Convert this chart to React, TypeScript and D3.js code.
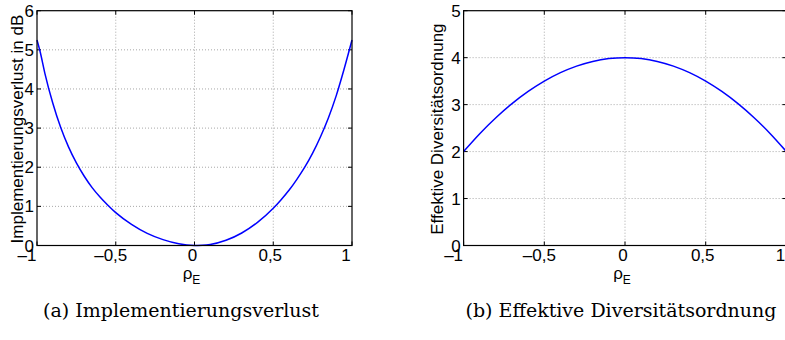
import * as d3 from "d3";

// rho_E sample positions and values
const rhoLoss = [-1, -0.98, -0.95, -0.9, -0.85, -0.8, -0.75, -0.7, -0.65, -0.6, -0.55, -0.5, -0.4, -0.3, -0.2, -0.1, 0, 0.02, 0.05, 0.1, 0.2, 0.3, 0.4, 0.5, 0.55, 0.6, 0.65, 0.7, 0.75, 0.8, 0.85, 0.9, 0.95, 1];
const implLoss = [5.25, 4.95, 4.4, 3.64, 3.02, 2.52, 2.11, 1.77, 1.48, 1.24, 1.03, 0.84, 0.54, 0.31, 0.15, 0.044, 0.001, 0.0, 0.004, 0.026, 0.133, 0.32, 0.59, 0.95, 1.17, 1.41, 1.69, 2.0, 2.36, 2.78, 3.26, 3.83, 4.51, 5.25];

const rhoDiv = [-1, -0.9, -0.8, -0.7, -0.6, -0.5, -0.4, -0.3, -0.2, -0.1, 0, 0.1, 0.2, 0.3, 0.4, 0.5, 0.6, 0.7, 0.8, 0.9, 1];
const effDiv = [2.0, 2.38, 2.72, 3.02, 3.28, 3.5, 3.68, 3.82, 3.92, 3.98, 4.0, 3.98, 3.92, 3.82, 3.68, 3.5, 3.28, 3.02, 2.72, 2.38, 2.0];

const xTicks = [-1, -0.5, 0, 0.5, 1];
const xTickLabels = ["–1", "–0,5", "0", "0,5", "1"];
const yTicksLoss = [0, 1, 2, 3, 4, 5, 6];
const yTicksDiv = [0, 1, 2, 3, 4, 5];

const SANS = "Liberation Sans, Arial, Helvetica, sans-serif";
const SERIF = "DejaVu Serif, serif";
// MATLAB's export puts the x tick labels a little left of their ticks
const labelNudge = [-10, -5, -2, -3, -6];

interface PanelProps {
  left: number;
  right: number;
  top: number;
  bottom: number;
  yMax: number;
  yTicks: number[];
  xs: number[];
  ys: number[];
  yLabel: string;
  yLabelX: number;
  curve: d3.CurveFactory;
}

function Panel({ left, right, top, bottom, yMax, yTicks, xs, ys, yLabel, yLabelX, curve }: PanelProps) {
  const x = d3.scaleLinear().domain([-1, 1]).range([left, right]);
  const y = d3.scaleLinear().domain([0, yMax]).range([bottom, top]);
  const pts = xs.map((v, i) => [v, ys[i]] as [number, number]);
  const line = d3
    .line<[number, number]>()
    .x((d) => x(d[0]))
    .y((d) => y(d[1]))
    .curve(curve);

  const tick = 4;
  return (
    <g>
      {/* dotted grid */}
      {xTicks.slice(1, -1).map((t) => (
        <line key={"gx" + t} x1={x(t)} x2={x(t)} y1={top} y2={bottom} stroke="#a8a8a8" strokeWidth={1} strokeDasharray="1,2" />
      ))}
      {yTicks.slice(1, -1).map((t) => (
        <line key={"gy" + t} x1={left} x2={right} y1={y(t)} y2={y(t)} stroke="#a8a8a8" strokeWidth={1} strokeDasharray="1,2" />
      ))}
      {/* inward ticks on all four sides */}
      {xTicks.map((t) => (
        <g key={"tx" + t}>
          <line x1={x(t)} x2={x(t)} y1={bottom} y2={bottom - tick} stroke="#000" />
          <line x1={x(t)} x2={x(t)} y1={top} y2={top + tick} stroke="#000" />
        </g>
      ))}
      {yTicks.map((t) => (
        <g key={"ty" + t}>
          <line x1={left} x2={left + tick} y1={y(t)} y2={y(t)} stroke="#000" />
          <line x1={right} x2={right - tick} y1={y(t)} y2={y(t)} stroke="#000" />
        </g>
      ))}
      <path d={line(pts) ?? ""} fill="none" stroke="#0000ff" strokeWidth={1.5} />
      <rect x={left} y={top} width={right - left} height={bottom - top} fill="none" stroke="#000" strokeWidth={1.2} />
      {/* tick labels */}
      {xTicks.map((t, i) => (
        <text key={"lx" + t} x={x(t) + labelNudge[i]} y={bottom + 15} textAnchor="middle" fontFamily={SANS} fontSize={17}>
          {xTickLabels[i]}
        </text>
      ))}
      {yTicks.map((t) => (
        <text key={"ly" + t} x={left - 3} y={y(t) + 6} textAnchor="end" fontFamily={SANS} fontSize={17}>
          {t}
        </text>
      ))}
      <text x={x(0) - 3} y={bottom + 33} textAnchor="middle" fontFamily={SANS} fontSize={17}>
        ρ<tspan fontSize={12} dy={5}>E</tspan>
      </text>
      <text
        transform={`translate(${yLabelX},${(top + bottom) / 2 + 1}) rotate(-90)`}
        textAnchor="middle"
        fontFamily={SANS}
        fontSize={17}
      >
        {yLabel}
      </text>
    </g>
  );
}

export default function App() {
  return (
    <div style={{ position: "fixed", left: 0, top: 0, background: "#fff" }}>
      <svg width={785} height={340} style={{ display: "block" }}>
        <rect width={785} height={340} fill="#fff" />
        <Panel left={37} right={352} top={10.7} bottom={245.5} yMax={6} yTicks={yTicksLoss} xs={rhoLoss} ys={implLoss} yLabel="Implementierungsverlust in dB" yLabelX={23} curve={d3.curveMonotoneX} />
        <Panel left={463.6} right={786.4} top={10.7} bottom={245.5} yMax={5} yTicks={yTicksDiv} xs={rhoDiv} ys={effDiv} yLabel="Effektive Diversitätsordnung" yLabelX={443} curve={d3.curveNatural} />
        <text x={181} y={317} textAnchor="middle" fontFamily={SERIF} fontSize={19}>
          (a) Implementierungsverlust
        </text>
        <text x={621} y={317} textAnchor="middle" fontFamily={SERIF} fontSize={19}>
          (b) Effektive Diversitätsordnung
        </text>
      </svg>
    </div>
  );
}
